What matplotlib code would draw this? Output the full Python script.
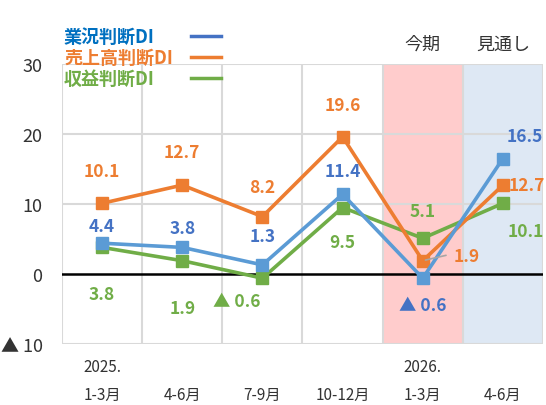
import matplotlib
matplotlib.use("Agg")
import matplotlib.pyplot as plt
from matplotlib.lines import Line2D
import matplotlib.transforms as mtransforms

plt.rcParams["font.family"] = ["Noto Sans CJK JP", "DejaVu Sans"]

# data
periods_top = ["2025.", "", "", "", "2026.", ""]
periods = ["1-3月", "4-6月", "7-9月", "10-12月", "1-3月", "4-6月"]
gyokyo = [4.4, 3.8, 1.3, 11.4, -0.6, 16.5]
uriage = [10.1, 12.7, 8.2, 19.6, 1.9, 12.7]
shueki = [3.8, 1.9, -0.6, 9.5, 5.1, 10.1]
series_names = ["業況判断DI", "売上高判断DI", "収益判断DI"]
yticks = [-10, 0, 10, 20, 30]

# label offsets (pixels) per point
off_gyokyo = [(0, 17), (0, 19), (0, 29), (0, 23), (0, -27), (22, 22)]
off_uriage = [(0, 32), (0, 33), (0, 30), (0, 32), (44, 5), (24, 0)]
off_shueki = [(0, -47), (0, -47), (-26, -23), (0, -35), (0, 27), (23, -28)]

line_cols = ["#5B9BD5", "#ED7D31", "#70AD47"]
label_cols = ["#4472C4", "#ED7D31", "#70AD47"]
legend_txt_cols = ["#0070C0", "#ED7D31", "#70AD47"]

fig = plt.figure(figsize=(5.46, 4.06), dpi=100)
ax = fig.add_axes([62 / 546, 1 - 345 / 406, 481 / 546, 280 / 406])

x = list(range(len(periods)))
ax.set_xlim(-0.5, len(periods) - 0.5)
ax.set_ylim(-10, 30)

ax.axvspan(3.5, 4.5, color="#FFCCCC", lw=0, zorder=0)
ax.axvspan(4.5, 5.5, color="#DEE8F4", lw=0, zorder=0)

grid_col = "#D9D9D9"
for xb in [-0.5, 0.5, 1.5, 2.5, 3.5, 4.5, 5.5]:
    ax.axvline(xb, color=grid_col, lw=1.5, zorder=1)
for yv in [-10, 10, 20, 30]:
    ax.axhline(yv, color=grid_col, lw=1.5, zorder=1)
ax.axhline(0, color="black", lw=1.8, zorder=2)

for s in ax.spines.values():
    s.set_visible(False)

series = [gyokyo, uriage, shueki]
offsets = [off_gyokyo, off_uriage, off_shueki]
order = [2, 1, 0]
for k in order:
    ax.plot(x, series[k], color=line_cols[k], lw=2.6, marker="s", ms=9,
            zorder=3 + (2 - k) * 0.1 + 0.5)

for k in range(3):
    for i, v in enumerate(series[k]):
        txt = f"▲ {abs(v):.1f}" if v < 0 else f"{v:.1f}"
        dx, dy = offsets[k][i]
        ax.annotate(txt, (i, v), xytext=(dx, dy), textcoords="offset pixels",
                    ha="center", va="center", fontsize=12.5, fontweight="bold",
                    color=label_cols[k], zorder=6)

# leader line for orange 1.9
ax.annotate("", (4, uriage[4]), xytext=(26, 6), textcoords="offset pixels",
            arrowprops=dict(arrowstyle="-", color="#A6A6A6", lw=1.2), zorder=5)

ax.set_xticks([])
ax.set_yticks(yticks)
ax.set_yticklabels([f"▲ {abs(t)}" if t < 0 else str(t) for t in yticks])
ax.tick_params(axis="y", length=0, pad=14, labelsize=13, labelcolor="#333333")

trans = mtransforms.blended_transform_factory(ax.transData, fig.transFigure)
for i in x:
    if periods_top[i]:
        ax.text(i, 1 - 368 / 406, periods_top[i], transform=trans, ha="center",
                va="center", fontsize=11, color="#333333")
    ax.text(i, 1 - 395 / 406, periods[i], transform=trans, ha="center",
            va="center", fontsize=11, color="#333333")

ax.text(4, 1 - 45 / 406, "今期", transform=trans, ha="center", va="center",
        fontsize=13, color="#333333")
ax.text(5, 1 - 45 / 406, "見通し", transform=trans, ha="center", va="center",
        fontsize=13, color="#333333")

# legend
leg_y = [37, 58, 79]
for k in range(3):
    fig.text(64 / 546, 1 - leg_y[k] / 406, series_names[k], ha="left", va="center",
             fontsize=13, fontweight="bold", color=legend_txt_cols[k])
    fig.add_artist(Line2D([191 / 546, 221 / 546], [1 - leg_y[k] / 406] * 2,
                          color=label_cols[k] if k == 0 else line_cols[k], lw=2.5))

fig.savefig("out.png", dpi=100)
